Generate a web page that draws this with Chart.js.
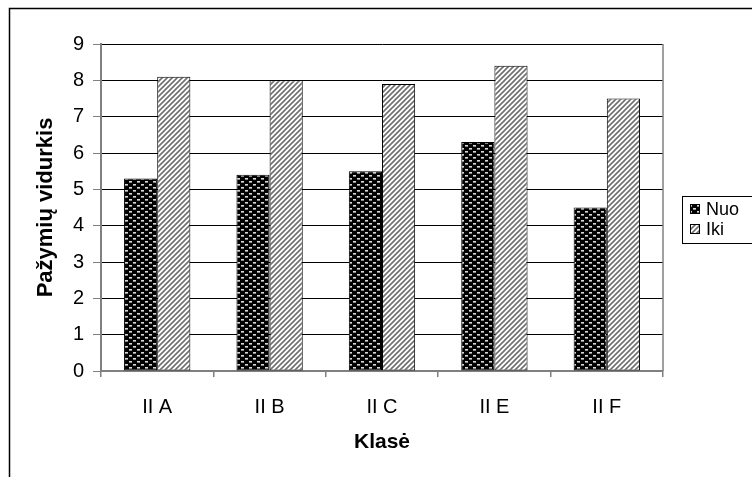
<!DOCTYPE html>
<html>
<head>
<meta charset="utf-8">
<script src="https://cdn.jsdelivr.net/npm/chart.js@4/dist/chart.umd.min.js"></script>
<style>
  html, body { margin: 0; padding: 0; background: #fff; }
  #wrap { width: 752px; height: 477px; }
</style>
</head>
<body>
<div id="wrap"><canvas id="gradeChart" width="752" height="477"></canvas></div>
<script>
// data
const classes = ['II A', 'II B', 'II C', 'II E', 'II F'];
const nuoValues = [5.3, 5.4, 5.5, 6.3, 4.5];
const ikiValues = [8.1, 8.0, 7.9, 8.4, 7.5];
const seriesNames = ['Nuo', 'Iki'];
const yTicks = [0, 1, 2, 3, 4, 5, 6, 7, 8, 9];

const FONT = '"Liberation Sans", Arial, sans-serif';

// black with light dots
function makeDotPattern() {
    const c = document.createElement('canvas');
    c.width = 8; c.height = 6;
    const g = c.getContext('2d');
    g.fillStyle = '#000';
    g.fillRect(0, 0, 8, 6);
    g.fillStyle = '#d8d8d8';
    g.fillRect(1, 1, 3, 1);
    g.fillRect(5, 4, 3, 1);
    g.fillStyle = '#888';
    g.fillRect(1, 2, 3, 1);
    g.fillRect(5, 5, 3, 1);
    return g.createPattern(c, 'repeat');
}

// white with grey "/" stripes
function makeStripePattern() {
    const c = document.createElement('canvas');
    c.width = 5; c.height = 5;
    const g = c.getContext('2d');
    g.fillStyle = '#fff';
    g.fillRect(0, 0, 5, 5);
    g.strokeStyle = '#707070';
    g.lineWidth = 1.6;
    g.beginPath();
    g.moveTo(-1, 6); g.lineTo(6, -1);
    g.moveTo(-6, 6); g.lineTo(1, -1);
    g.moveTo(4, 6); g.lineTo(11, -1);
    g.stroke();
    return g.createPattern(c, 'repeat');
}

const dotFill = makeDotPattern();
const stripeFill = makeStripePattern();

// plot frame, outer frame and legend box
const decorPlugin = {
    id: 'decor',
    afterDraw(chart) {
        const ctx = chart.ctx;
        const a = chart.chartArea;
        ctx.save();
        ctx.strokeStyle = '#808080';
        ctx.lineWidth = 1.5;
        ctx.beginPath();
        ctx.moveTo(a.right, a.top);
        ctx.lineTo(a.right, a.bottom);
        ctx.stroke();

        ctx.strokeStyle = '#000';
        ctx.lineWidth = 1.5;
        ctx.strokeRect(9.5, 8.5, 800, 500);

        // legend
        ctx.lineWidth = 1;
        ctx.strokeRect(682.5, 196.5, 100, 47);
        ctx.font = '18px ' + FONT;
        ctx.textBaseline = 'middle';
        chart.data.datasets.forEach((ds, i) => {
            const y = 209 + i * 20;
            ctx.fillStyle = ds.backgroundColor;
            ctx.fillRect(690, y - 5, 10, 10);
            ctx.strokeStyle = '#000';
            ctx.strokeRect(690.5, y - 4.5, 9, 9);
            ctx.fillStyle = '#000';
            ctx.fillText(ds.label, 706, y + 1);
        });
        ctx.restore();
    }
};

new Chart(document.getElementById('gradeChart'), {
    type: 'bar',
    data: {
        labels: classes,
        datasets: [
            {
                label: seriesNames[0],
                data: nuoValues,
                backgroundColor: dotFill,
                borderColor: '#000',
                borderWidth: 1,
                borderSkipped: false
            },
            {
                label: seriesNames[1],
                data: ikiValues,
                backgroundColor: stripeFill,
                borderColor: '#000',
                borderWidth: 1,
                borderSkipped: false
            }
        ]
    },
    options: {
        responsive: false,
        animation: false,
        devicePixelRatio: 1,
        layout: { padding: { left: 0, top: 44, right: 89, bottom: 0 } },
        datasets: {
            bar: { categoryPercentage: 0.59, barPercentage: 1 }
        },
        scales: {
            x: {
                afterFit: s => { s.height = 106; },
                grid: {
                    offset: true,
                    drawOnChartArea: false,
                    color: '#808080',
                    tickLength: 6,
                    lineWidth: 1.5
                },
                border: { color: '#808080', width: 2 },
                ticks: { color: '#000', padding: 18, font: { family: FONT, size: 20 } },
                title: {
                    display: true,
                    text: 'Klasė',
                    color: '#000',
                    padding: { top: 0, bottom: 22 },
                    font: { family: FONT, size: 21, weight: 'bold' }
                }
            },
            y: {
                min: 0,
                max: 9,
                afterFit: s => { s.width = 101; },
                afterBuildTicks: s => { s.ticks = yTicks.map(v => ({ value: v })); },
                grid: {
                    color: '#000',
                    lineWidth: 1,
                    tickColor: '#808080',
                    tickLength: 8
                },
                border: { color: '#808080', width: 2 },
                ticks: { color: '#000', padding: 9, font: { family: FONT, size: 20 } },
                title: {
                    display: true,
                    text: 'Pažymių vidurkis',
                    color: '#000',
                    padding: { top: 33, bottom: 0 },
                    font: { family: FONT, size: 22, weight: 'bold' }
                }
            }
        },
        plugins: {
            legend: { display: false },
            tooltip: { enabled: false }
        }
    },
    plugins: [decorPlugin]
});
</script>
</body>
</html>
